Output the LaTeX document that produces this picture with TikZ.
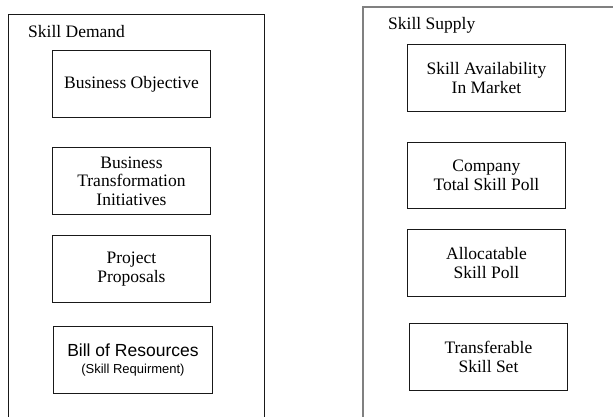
\documentclass[tikz,border=0pt]{standalone}
\usepackage{fontspec}
\setmainfont{Liberation Serif}
\newfontfamily\arialfont{Liberation Sans}
\begin{document}
\begin{tikzpicture}[x=1pt,y=-1pt,
  itembox/.style={draw=black!90,line width=0.9pt,minimum width=158pt,
    minimum height=67pt,inner sep=0pt,align=center,anchor=north west,
    font=\fontsize{17.5}{18.5}\selectfont},
  paneltitle/.style={anchor=west,inner sep=0pt,
    font=\fontsize{17.5}{18.5}\selectfont}]
\useasboundingbox (0,0) rectangle (613,416);

% demand panel (runs off the bottom edge)
\draw[line width=1pt,black!90] (8,417) -- (8,14) -- (264,14) -- (264,417);
\node[paneltitle] (demand) at (28,32) {Skill Demand};

\node[itembox] (objective) at (52,50) {Business Objective};
\node[itembox] (transform) at (52,147) {Business\\Transformation\\Initiatives};
\node[itembox] (proposals) at (52,235) {Project\\Proposals};
\node[itembox,minimum width=159pt] (bill) at (53,326)
  {{\arialfont\fontsize{17.5}{19}\selectfont Bill of Resources}\\[-2pt]
   {\arialfont\fontsize{13}{15}\selectfont (Skill Requirment)}};

% supply panel (runs off the bottom and right edges)
\draw[line width=1.2pt,black!50] (363,417) -- (363,7) -- (614,7);
\node[paneltitle] (supply) at (388,25) {Skill Supply};

\node[itembox] (market) at (407,44) {Skill Availability\\In Market};
\node[itembox,minimum height=66pt] (total) at (407,142) {Company\\Total Skill Poll};
\node[itembox] (alloc) at (407,229) {Allocatable\\Skill Poll};
\node[itembox] (transfer) at (409,323) {Transferable\\Skill Set};
\end{tikzpicture}
\end{document}
